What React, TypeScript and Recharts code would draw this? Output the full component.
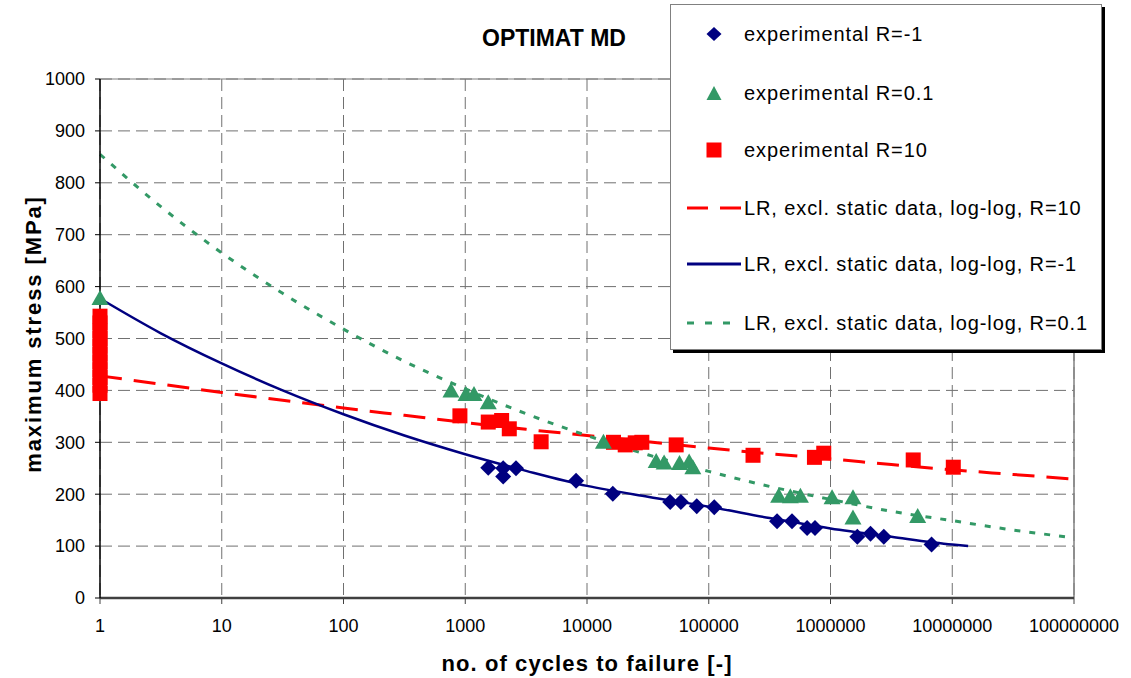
import React from "react";
import { CartesianGrid, ComposedChart, Customized, Legend, Line, ReferenceLine, Scatter, XAxis, YAxis } from "recharts";

interface Pt {
  n: number;
  s: number;
}

const cycleTicks = [1, 10, 100, 1000, 10000, 100000, 1000000, 10000000, 100000000];
const stressTicks = [0, 100, 200, 300, 400, 500, 600, 700, 800, 900, 1000];

// experimental points
const expRm1: Pt[] = [
  { n: 1545, s: 251 }, { n: 2050, s: 250 }, { n: 2050, s: 234 }, { n: 2610, s: 250 },
  { n: 8130, s: 226 }, { n: 16300, s: 201 }, { n: 48200, s: 185 }, { n: 59000, s: 185 },
  { n: 79700, s: 177 }, { n: 111000, s: 175 }, { n: 364000, s: 148 }, { n: 483000, s: 148 },
  { n: 643000, s: 135 }, { n: 746000, s: 135 }, { n: 1660000, s: 118 }, { n: 2130000, s: 124 },
  { n: 2740000, s: 118 }, { n: 6760000, s: 103 },
];

const expR01: Pt[] = [
  { n: 1, s: 578 }, { n: 763, s: 400 }, { n: 1014, s: 393 }, { n: 1180, s: 393 },
  { n: 1545, s: 377 }, { n: 13650, s: 301 }, { n: 37000, s: 264 }, { n: 43000, s: 261 },
  { n: 57500, s: 260 }, { n: 69000, s: 263 }, { n: 74000, s: 252 }, { n: 375000, s: 197 },
  { n: 468000, s: 196 }, { n: 566000, s: 197 }, { n: 1030000, s: 194 }, { n: 1530000, s: 194 },
  { n: 1530000, s: 155 }, { n: 5200000, s: 158 },
];

const expR10: Pt[] = [
  { n: 1, s: 543 }, { n: 1, s: 530 }, { n: 1, s: 515 }, { n: 1, s: 500 }, { n: 1, s: 485 },
  { n: 1, s: 470 }, { n: 1, s: 455 }, { n: 1, s: 440 }, { n: 1, s: 425 }, { n: 1, s: 410 },
  { n: 1, s: 394 }, { n: 904, s: 351 }, { n: 1545, s: 339 }, { n: 1990, s: 342 },
  { n: 2300, s: 326 }, { n: 4200, s: 301 }, { n: 16500, s: 300 }, { n: 20600, s: 295 },
  { n: 24900, s: 299 }, { n: 28200, s: 300 }, { n: 54000, s: 295 }, { n: 231000, s: 275 },
  { n: 738000, s: 271 }, { n: 880000, s: 279 }, { n: 4780000, s: 266 }, { n: 10200000, s: 252 },
];

// regression curves, values read at half decades
const fitN = [1, 3.162, 10, 31.62, 100, 316.2, 1000, 3162, 10000, 31623, 100000, 316228, 1000000, 3162278, 10000000, 31622777, 100000000];
const lrR10 = [428, 412, 396, 381, 366, 352, 338, 325, 313, 301, 289, 278, 268, 257, 247, 238, 229];
const lrR01 = [855, 754, 665, 587, 518, 456, 403, 355, 313, 276, 244, 215, 190, 167, 149, 131, 116];
const rm1N = [1, 3.162, 10, 31.62, 100, 316.2, 1000, 3162, 10000, 31623, 100000, 316228, 1000000, 3162278, 10000000, 13500000];
const lrRm1 = [577, 510, 452, 400, 354, 313, 277, 245, 216, 195, 176, 154, 134, 118, 103, 100];

const zip = (ns: number[], ss: number[]): Pt[] => ns.map((n, i) => ({ n, s: ss[i] }));

const NAVY = "#000080";
const RED = "#ff0000";
const GREEN = "#339966";
const FONT = '"Liberation Sans", Arial, sans-serif';

const Diamond = (p: any) => (
  <polygon points={`${p.cx},${p.cy - 8} ${p.cx + 8},${p.cy} ${p.cx},${p.cy + 8} ${p.cx - 8},${p.cy}`} fill={NAVY} />
);
const Triangle = (p: any) => (
  <polygon points={`${p.cx},${p.cy - 8} ${p.cx + 8.5},${p.cy + 7} ${p.cx - 8.5},${p.cy + 7}`} fill={GREEN} />
);
const Square = (p: any) => <rect x={p.cx - 7.5} y={p.cy - 7.5} width={15} height={15} fill={RED} />;

const legendRows = [
  { label: "experimental R=-1", kind: "diamond" },
  { label: "experimental R=0.1", kind: "triangle" },
  { label: "experimental R=10", kind: "square" },
  { label: "LR, excl. static data, log-log, R=10", kind: "dash" },
  { label: "LR, excl. static data, log-log, R=-1", kind: "solid" },
  { label: "LR, excl. static data, log-log, R=0.1", kind: "dot" },
];
const rowY = [29, 88, 145, 203, 259, 318];

function LegendBox() {
  return (
    <div style={{ width: 432, height: 346, background: "#fff", border: "1px solid #808080", boxShadow: "3px 3px 0 #000", boxSizing: "border-box" }}>
      <svg width={430} height={344} style={{ display: "block" }}>
        {legendRows.map((r, i) => {
          const y = rowY[i];
          const cx = 43;
          let mark: React.ReactNode = null;
          if (r.kind === "diamond") mark = <polygon points={`${cx},${y - 7} ${cx + 7.5},${y} ${cx},${y + 7} ${cx - 7.5},${y}`} fill={NAVY} />;
          if (r.kind === "triangle") mark = <polygon points={`${cx},${y - 7} ${cx + 7.5},${y + 7} ${cx - 7.5},${y + 7}`} fill={GREEN} />;
          if (r.kind === "square") mark = <rect x={cx - 7.5} y={y - 7.5} width={15} height={15} fill={RED} />;
          if (r.kind === "dash") mark = <line x1={16} x2={71} y1={y} y2={y} stroke={RED} strokeWidth={3} strokeDasharray="21 12" />;
          if (r.kind === "solid") mark = <line x1={16} x2={70} y1={y} y2={y} stroke={NAVY} strokeWidth={3} />;
          if (r.kind === "dot") mark = <line x1={16} x2={70} y1={y} y2={y} stroke={GREEN} strokeWidth={3} strokeDasharray="7 11" />;
          return (
            <g key={r.label}>
              {mark}
              <text x={73} y={y + 7} fontFamily={FONT} fontSize={20} letterSpacing={0.9} fill="#000">
                {r.label}
              </text>
            </g>
          );
        })}
      </svg>
    </div>
  );
}

function Titles() {
  return (
    <g fontFamily={FONT} fontWeight="bold" fill="#000">
      <text x={554} y={46} textAnchor="middle" fontSize={23}>OPTIMAT MD</text>
      <text x={587} y={671} textAnchor="middle" fontSize={22} letterSpacing={1.1}>no. of cycles to failure [-]</text>
      <text x={41} y={334} textAnchor="middle" fontSize={22} letterSpacing={1.9} transform="rotate(-90 41 334)">
        maximum stress [MPa]
      </text>
    </g>
  );
}

export default function App() {
  return (
    <div style={{ position: "absolute", left: 0, top: 0, background: "#fff" }}>
      <ComposedChart width={1131} height={678} margin={{ top: 79, right: 57, bottom: 0, left: 0 }}>
        <CartesianGrid stroke="#707070" strokeDasharray="12 6" />
        <XAxis
          type="number"
          dataKey="n"
          scale="log"
          domain={[1, 100000000]}
          ticks={cycleTicks}
          tickFormatter={(v: number) => String(Math.round(v))}
          height={80}
          tickSize={6}
          tickMargin={15}
          axisLine={{ stroke: "#404040", strokeWidth: 2.5 }}
          tickLine={{ stroke: "#404040" }}
          tick={{ fill: "#000", fontSize: 18, fontFamily: FONT }}
        />
        <YAxis
          type="number"
          dataKey="s"
          domain={[0, 1000]}
          ticks={stressTicks}
          width={100}
          tickSize={5}
          tickMargin={10}
          axisLine={{ stroke: "#000", strokeWidth: 1.5 }}
          tickLine={{ stroke: "#000" }}
          tick={{ fill: "#000", fontSize: 18, fontFamily: FONT }}
        />
        <ReferenceLine y={1000} stroke="#808080" strokeWidth={1.2} />
        <ReferenceLine x={100000000} stroke="#808080" strokeWidth={1.5} />
        <Line data={zip(fitN, lrR10)} dataKey="s" type="monotone" stroke={RED} strokeWidth={3} strokeDasharray="22 12" dot={false} isAnimationActive={false} />
        <Line data={zip(rm1N, lrRm1)} dataKey="s" type="monotone" stroke={NAVY} strokeWidth={2.5} dot={false} isAnimationActive={false} />
        <Line data={zip(fitN, lrR01)} dataKey="s" type="monotone" stroke={GREEN} strokeWidth={3} strokeDasharray="6 9" dot={false} isAnimationActive={false} />
        <Scatter data={expR10} dataKey="s" shape={Square} isAnimationActive={false} />
        <Scatter data={expR01} dataKey="s" shape={Triangle} isAnimationActive={false} />
        <Scatter data={expRm1} dataKey="s" shape={Diamond} isAnimationActive={false} />
        <Customized component={Titles} />
        <Legend
          layout="vertical"
          align="center"
          verticalAlign="middle"
          content={() => <LegendBox />}
          wrapperStyle={{ left: 670, top: 4, width: 432, height: 346 }}
        />
      </ComposedChart>
    </div>
  );
}
